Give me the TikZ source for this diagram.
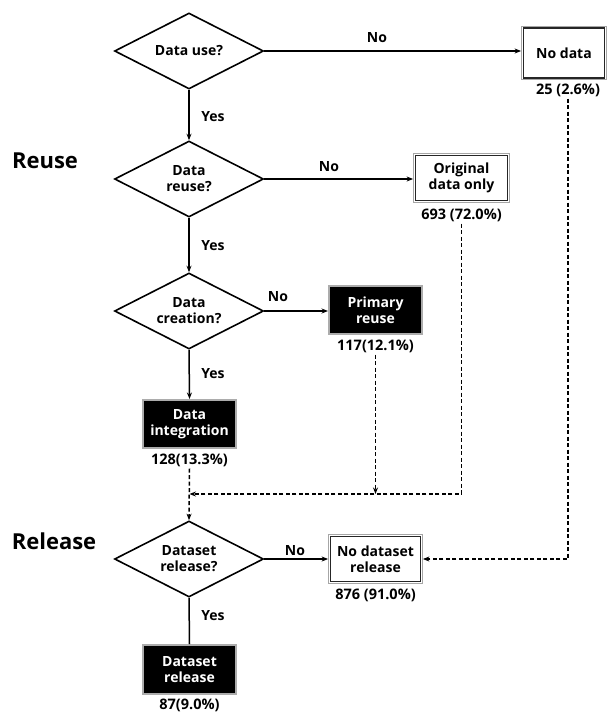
\documentclass[tikz,border=0pt]{standalone}
\usepackage{fontspec}
\setmainfont{Open Sans}
\usetikzlibrary{shapes.geometric,arrows.meta}
\begin{document}
\begin{tikzpicture}[x=1pt,y=-1pt,
  dec/.style={diamond, draw=black, line width=1.6pt, aspect=2, minimum width=149pt, minimum height=76pt, inner sep=0pt, align=center, font=\bfseries\fontsize{14}{16}\selectfont},
  wbox/.style={rectangle, draw=black!85, line width=1.1pt, fill=white, outer sep=2.4pt, inner sep=1pt,
     preaction={draw=gray!70, line width=4.8pt}, preaction={draw=white, line width=2.8pt},
     align=center, font=\bfseries\fontsize{14}{16}\selectfont},
  bbox/.style={rectangle, draw=gray!65, line width=1.8pt, fill=black, text=white, inner sep=1pt,
     minimum width=93.2pt, minimum height=48.2pt, align=center, font=\bfseries\fontsize{14}{16}\selectfont},
  cnt/.style={font=\bfseries\fontsize{14.5}{16}\selectfont, inner sep=0pt},
  lbl/.style={font=\bfseries\fontsize{14}{15}\selectfont, inner sep=0pt},
  sec/.style={font=\bfseries\fontsize{22}{24}\selectfont, inner sep=0pt},
  arr/.style={line width=1.5pt, -{Stealth[length=6.5pt,width=5pt]}},
  pln/.style={line width=1.5pt},
  dsh/.style={line width=1.5pt, dash pattern=on 4pt off 2.5pt, -{Stealth[length=6.5pt,width=5pt]}}
]
\useasboundingbox (0,0) rectangle (608,712);

% section labels
\node[sec] (sreuse) at (45,161) {Reuse};
\node[sec] (srel) at (54,541) {Release};

% decisions
\node[dec] (d1) at (189,51) {Data use?};
\node[dec] (d2) at (189,179) {Data\\reuse?};
\node[dec] (d3) at (189,311) {Data\\creation?};
\node[dec] (d4) at (189,559) {Dataset\\release?};

% outcome boxes
\node[wbox, minimum width=81pt, minimum height=50pt] (nodata) at (564,53) {No data};
\node[wbox, minimum width=92pt, minimum height=45pt] (orig) at (461.5,178) {Original\\data only};
\node[bbox] (prim) at (375.5,310) {Primary\\reuse};
\node[bbox] (integ) at (189.5,424) {Data\\integration};
\node[wbox, minimum width=90pt, minimum height=45pt] (nodr) at (375.5,559) {No dataset\\release};
\node[bbox, minimum height=49.2pt] (dr) at (189.5,669.5) {Dataset\\release};

% counts
\node[cnt] (c25) at (568,90) {25 (2.6\%)};
\node[cnt] (c693) at (461.5,215) {693 (72.0\%)};
\node[cnt] (c117) at (375.5,346) {117(12.1\%)};
\node[cnt] (c128) at (189.5,460) {128(13.3\%)};
\node[cnt] (c876) at (375.5,595) {876 (91.0\%)};
\node[cnt] (c87) at (189.5,705) {87(9.0\%)};

% yes / no labels
\node[lbl] (n1) at (377,38) {No};
\node[lbl] (n2) at (329,167) {No};
\node[lbl] (n3) at (278,297) {No};
\node[lbl] (n4) at (295,551) {No};
\node[lbl] (y1) at (213,117) {Yes};
\node[lbl] (y2) at (213,246) {Yes};
\node[lbl] (y3) at (213,374) {Yes};
\node[lbl] (y4) at (213,616) {Yes};

% solid connectors
\draw[arr] (d1.east) -- (d1.east -| nodata.west);
\draw[arr] (d1.south) -- (d2.north);
\draw[arr] (d2.east) -- (d2.east -| orig.west);
\draw[arr] (d2.south) -- (d3.north);
\draw[arr] (d3.east) -- (d3.east -| prim.west);
\draw[arr] (d3.south) -- (integ.north);
\draw[arr] (d4.east) -- (d4.east -| nodr.west);
\draw[pln] (d4.south) -- (dr.north);

% dashed connectors
\coordinate (m) at (189.5,494);
\draw[dsh] ([yshift=-2pt]c693.south) |- (m);
\draw[dsh] ([yshift=-2pt]c117.south) -- (c117.south |- m);
\draw[dsh] ([yshift=-2pt]c128.south) -- (d4.north);
\draw[dsh] ([yshift=-2pt]c25.south) |- (nodr.east);
\end{tikzpicture}
\end{document}
